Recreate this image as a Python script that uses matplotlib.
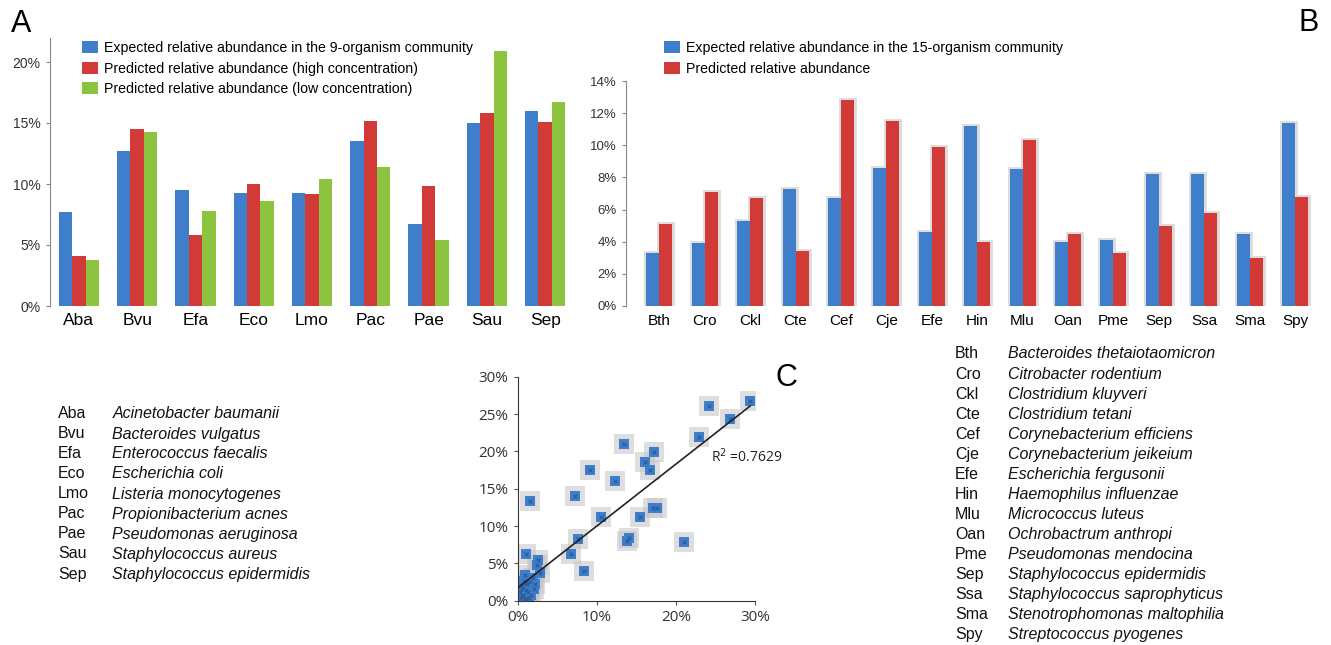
import numpy as np
import matplotlib
matplotlib.use("Agg")
import matplotlib.pyplot as plt
from matplotlib.ticker import FuncFormatter

plt.rcParams['font.family'] = ['Liberation Sans', 'DejaVu Sans']

# panel A data (percent)
a_labels = ['Aba', 'Bvu', 'Efa', 'Eco', 'Lmo', 'Pac', 'Pae', 'Sau', 'Sep']
a_expected = [7.7, 12.7, 9.5, 9.3, 9.3, 13.5, 6.7, 15.0, 16.0]
a_high = [4.1, 14.5, 5.8, 10.0, 9.2, 15.2, 9.8, 15.8, 15.1]
a_low = [3.8, 14.3, 7.8, 8.6, 10.4, 11.4, 5.4, 20.9, 16.7]
a_names = ['Acinetobacter baumanii', 'Bacteroides vulgatus', 'Enterococcus faecalis',
           'Escherichia coli', 'Listeria monocytogenes', 'Propionibacterium acnes',
           'Pseudomonas aeruginosa', 'Staphylococcus aureus', 'Staphylococcus epidermidis']

# panel B data (percent)
b_labels = ['Bth', 'Cro', 'Ckl', 'Cte', 'Cef', 'Cje', 'Efe', 'Hin', 'Mlu', 'Oan',
            'Pme', 'Sep', 'Ssa', 'Sma', 'Spy']
b_expected = [3.3, 3.9, 5.3, 7.3, 6.7, 8.6, 4.6, 11.2, 8.5, 4.0, 4.1, 8.2, 8.2, 4.5, 11.4]
b_predicted = [5.1, 7.1, 6.7, 3.4, 12.8, 11.5, 9.9, 4.0, 10.3, 4.5, 3.3, 5.0, 5.8, 3.0, 6.8]
b_names = ['Bacteroides thetaiotaomicron', 'Citrobacter rodentium', 'Clostridium kluyveri',
           'Clostridium tetani', 'Corynebacterium efficiens', 'Corynebacterium jeikeium',
           'Escherichia fergusonii', 'Haemophilus influenzae', 'Micrococcus luteus',
           'Ochrobactrum anthropi', 'Pseudomonas mendocina', 'Staphylococcus epidermidis',
           'Staphylococcus saprophyticus', 'Stenotrophomonas maltophilia', 'Streptococcus pyogenes']

# panel C data: expected vs predicted (percent)
c_expected = [1.6, 1.1, 2.6, 2.4, 2.8, 0.9, 6.7, 7.6, 7.3, 8.4, 9.2, 10.5, 12.3, 13.4,
              13.8, 14.1, 15.5, 17.1, 17.6, 17.2, 16.1, 16.7, 21.0, 22.9, 24.2, 26.9, 29.4,
              0.4, 0.7, 1.0, 1.3, 0.6, 1.7, 2.0, 1.2, 0.8, 1.6, 2.2, 0.3, 1.0, 1.9,
              0.5, 0.9, 1.4, 0.6, 1.1]
c_predicted = [13.4, 6.3, 5.4, 4.8, 3.7, 3.4, 6.3, 8.3, 14.0, 4.0, 17.5, 11.2, 16.0, 21.0,
               8.0, 8.4, 11.2, 12.4, 12.4, 19.9, 18.6, 17.5, 7.8, 21.9, 26.1, 24.3, 26.7,
               0.3, 0.8, 0.4, 1.1, 1.6, 0.7, 1.6, 2.2, 2.7, 2.5, 2.2, 1.1, 1.5, 3.0,
               2.0, 0.2, 0.3, 0.6, 2.4]

blue = '#3e7ecb'
red = '#d13a37'
green = '#8cc43f'
pct = FuncFormatter(lambda v, p: '%d%%' % round(v))
W, H = 1331, 645


def px_box(left, top, right, bottom):
    # pixel box -> figure fraction rect
    return [left / W, 1 - bottom / H, (right - left) / W, (bottom - top) / H]


fig = plt.figure(figsize=(13.31, 6.45), dpi=100)
leg_kw = dict(loc='upper left', frameon=False, fontsize=10.2, handlelength=1.12,
              handleheight=0.92, handletextpad=0.44, labelspacing=0.46,
              borderaxespad=0, borderpad=0, bbox_transform=fig.transFigure)

# ---- panel A
axA = fig.add_axes(px_box(49.7, 37.6, 568.5, 306))
x = np.arange(len(a_labels))
w = 0.23
axA.bar(x - w, a_expected, w, color=blue, label='Expected relative abundance in the 9-organism community')
axA.bar(x, a_high, w, color=red, label='Predicted relative abundance (high concentration)')
axA.bar(x + w, a_low, w, color=green, label='Predicted relative abundance (low concentration)')
axA.set_xlim(-0.5, 8.4)
axA.set_ylim(0, 22)
axA.set_yticks([0, 5, 10, 15, 20])
axA.yaxis.set_major_formatter(pct)
axA.set_xticks(x)
axA.set_xticklabels(a_labels, fontsize=12.5)
axA.tick_params(axis='x', length=0, pad=5)
axA.tick_params(axis='y', labelsize=10, length=3, color='#888888', labelcolor='#333333')
for s in ['top', 'right', 'bottom']:
    axA.spines[s].set_visible(False)
axA.spines['left'].set_color('#888888')
axA.legend(bbox_to_anchor=(82 / W, 1 - 41 / H), **leg_kw)

# ---- panel B
axB = fig.add_axes(px_box(625.6, 81, 1310.9, 306))
xb = np.arange(len(b_labels))
wb = 0.287
axB.bar(xb - wb / 2, b_expected, wb, color='#dcdcdc', edgecolor='#dcdcdc', linewidth=3.5, zorder=1)
axB.bar(xb + wb / 2, b_predicted, wb, color='#dcdcdc', edgecolor='#dcdcdc', linewidth=3.5, zorder=1)
axB.bar(xb - wb / 2, b_expected, wb, color=blue, zorder=2,
        label='Expected relative abundance in the 15-organism community')
axB.bar(xb + wb / 2, b_predicted, wb, color=red, zorder=2, label='Predicted relative abundance')
axB.set_xlim(-0.745, 14.35)
axB.set_ylim(0, 14)
axB.set_yticks(np.arange(0, 15, 2))
axB.yaxis.set_major_formatter(pct)
axB.set_xticks(xb)
axB.set_xticklabels(b_labels, fontsize=11)
axB.tick_params(axis='x', length=0, pad=6)
axB.tick_params(axis='y', labelsize=9.5, length=3, color='#888888', labelcolor='#333333')
for s in ['top', 'right', 'bottom']:
    axB.spines[s].set_visible(False)
axB.spines['left'].set_color('#888888')
axB.legend(bbox_to_anchor=(664 / W, 1 - 41 / H), **leg_kw)

# ---- panel C
axC = fig.add_axes(px_box(517.7, 376.7, 755, 600.7))
axC.scatter(c_expected, c_predicted, s=190, marker='s', color='#c4c4c4', alpha=0.55,
            linewidths=0, zorder=1)
axC.scatter(c_expected, c_predicted, s=42, marker='s', color=blue, linewidths=0, zorder=2)
axC.scatter(c_expected, c_predicted, s=8, marker='x', color='#2a5a99', linewidths=0.8, zorder=3)
m, b = np.polyfit(c_expected, c_predicted, 1)
xs = np.array([0, max(c_expected)])
axC.plot(xs, m * xs + b, color='#222222', lw=1.2, zorder=4)
axC.text(24.4, 19.3, 'R$^2$ =0.7629', fontsize=10, va='center', ha='left',
         family=['Open Sans', 'DejaVu Sans'], color='#222222')
axC.set_xlim(0, 30)
axC.set_ylim(0, 30)
axC.set_xticks([0, 10, 20, 30])
axC.set_yticks([0, 5, 10, 15, 20, 25, 30])
axC.xaxis.set_major_formatter(pct)
axC.yaxis.set_major_formatter(pct)
for lab in axC.get_xticklabels() + axC.get_yticklabels():
    lab.set_family(['Open Sans', 'DejaVu Sans'])
axC.tick_params(labelsize=11, length=3, color='#555555', labelcolor='#333333')
for s in ['top', 'right']:
    axC.spines[s].set_visible(False)
axC.spines['left'].set_color('#333333')
axC.spines['bottom'].set_color('#333333')

# ---- panel letters
fig.text(21 / W, 1 - 24 / H, 'A', fontsize=22, ha='center', va='center')
fig.text(1309 / W, 1 - 23 / H, 'B', fontsize=22, ha='center', va='center')
fig.text(786 / W, 1 - 378 / H, 'C', fontsize=22, ha='center', va='center')

# ---- species keys
for i, (ab, nm) in enumerate(zip(a_labels, a_names)):
    yy = 1 - (414 + 20 * i) / H
    fig.text(58 / W, yy, ab, fontsize=11.5, va='center', color='#111111')
    fig.text(112.5 / W, yy, nm, fontsize=11.5, va='center', style='italic', color='#111111')
for i, (ab, nm) in enumerate(zip(b_labels, b_names)):
    yy = 1 - (354 + 20.07 * i) / H
    fig.text(955 / W, yy, ab, fontsize=11.5, va='center', color='#111111')
    fig.text(1008 / W, yy, nm, fontsize=11.5, va='center', style='italic', color='#111111')

fig.savefig('out.png', dpi=100)
